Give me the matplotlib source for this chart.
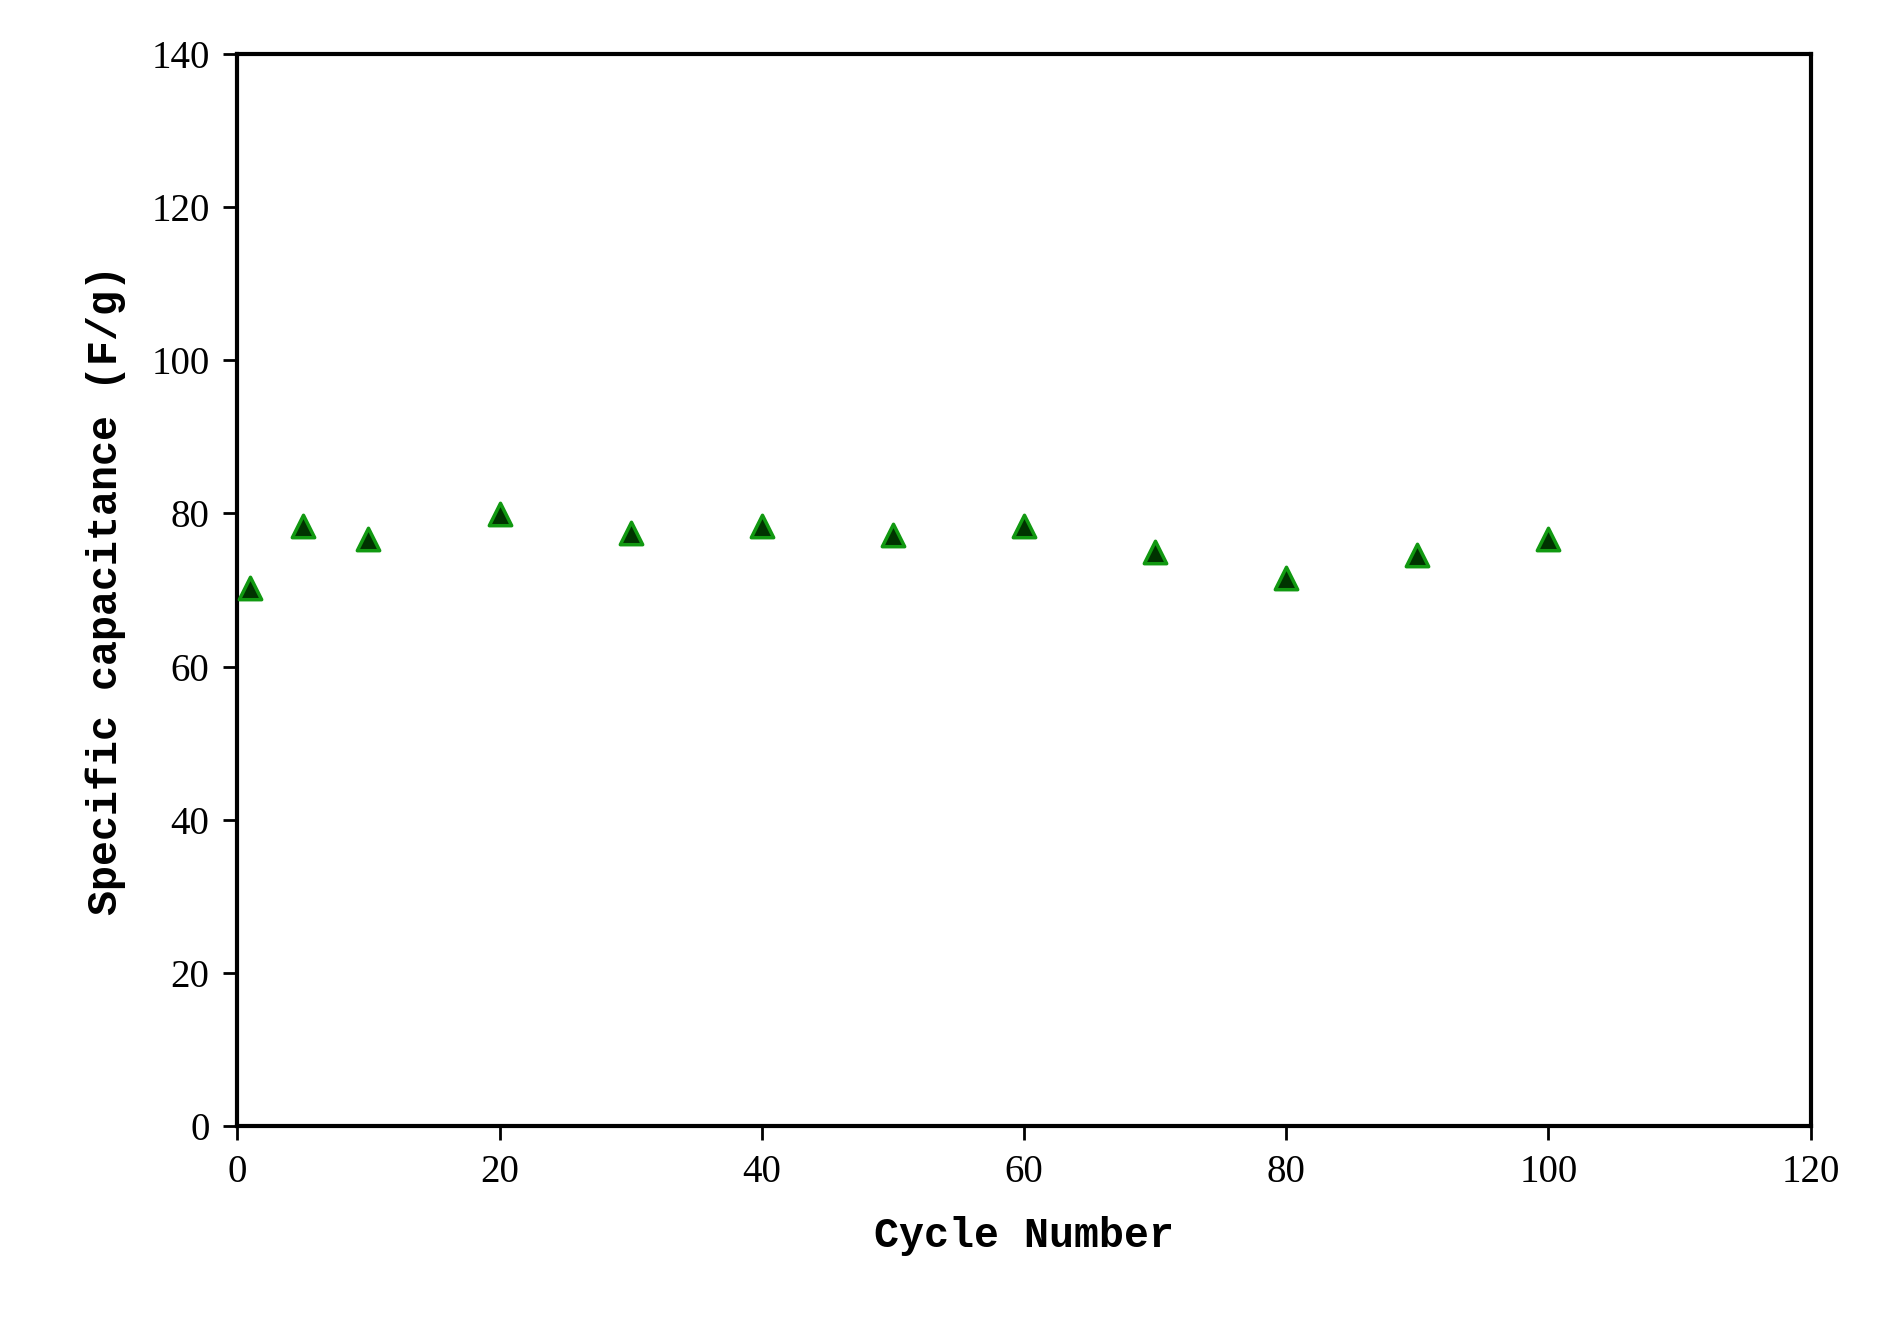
import matplotlib
matplotlib.use("Agg")
import matplotlib.pyplot as plt

# cycle data
cycles = [1, 5, 10, 20, 30, 40, 50, 60, 70, 80, 90, 100]
capacitance = [70.2, 78.3, 76.6, 79.9, 77.5, 78.3, 77.2, 78.3, 74.9, 71.6, 74.6, 76.6]
xticks = [0, 20, 40, 60, 80, 100, 120]
yticks = [0, 20, 40, 60, 80, 100, 120, 140]

fig = plt.figure(figsize=(18.84, 13.17), dpi=100)
ax = fig.add_axes([0.126, 0.145, 0.835, 0.814])

ax.scatter(cycles, capacitance, marker="^", s=260, facecolor="#003300",
           edgecolor="#119911", linewidths=2.5, zorder=3)

ax.set_xlim(0, 120)
ax.set_ylim(0, 140)
ax.set_xticks(xticks)
ax.set_yticks(yticks)
for s in ax.spines.values():
    s.set_linewidth(3)
ax.tick_params(direction="out", length=10, width=2, labelsize=28, pad=10)
for lab in ax.get_xticklabels() + ax.get_yticklabels():
    lab.set_family("Liberation Serif")

ax.set_xlabel("Cycle Number", fontsize=30, fontweight="bold",
              family="Liberation Mono", labelpad=18)
ax.set_ylabel("Specific capacitance (F/g)", fontsize=30, fontweight="bold",
              family="Liberation Mono", labelpad=18)

fig.savefig("out.png", dpi=100)
